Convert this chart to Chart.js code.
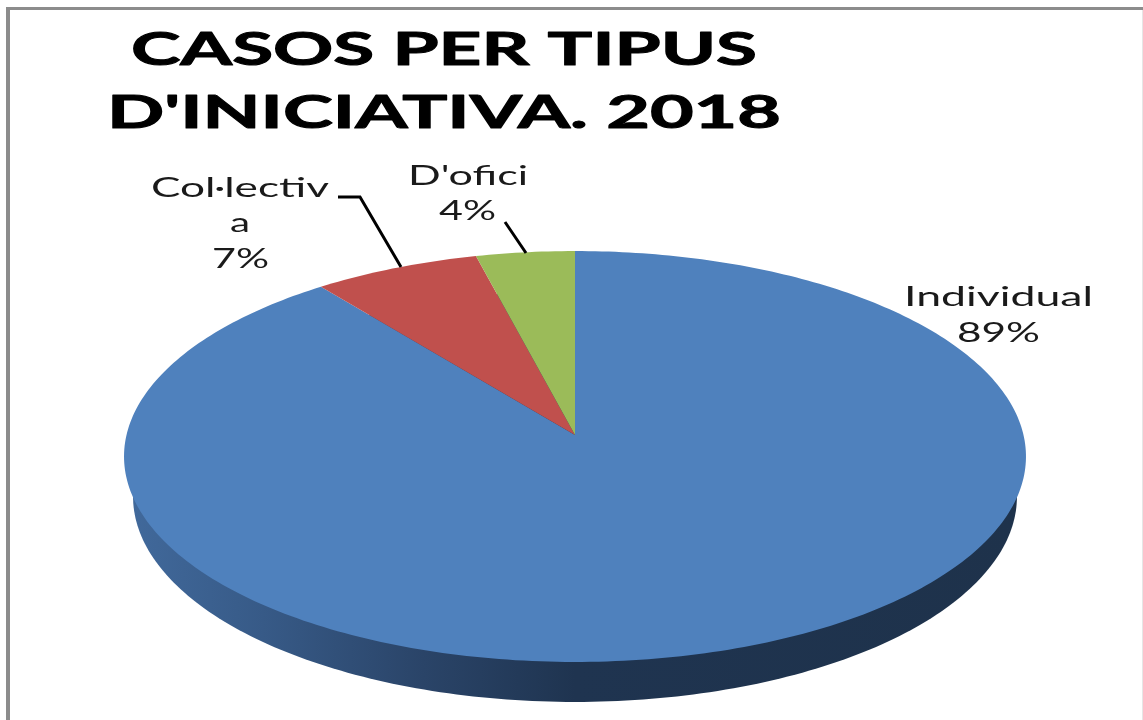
<!DOCTYPE html>
<html>
<head>
<meta charset="utf-8">
<style>html,body{margin:0;padding:0;background:#fff}canvas{display:block}</style>
<script src="https://cdn.jsdelivr.net/npm/chart.js@4"></script>
</head>
<body>
<canvas id="c" width="1143" height="720"></canvas>
<script>
const categories = ['Individual', 'Col·lectiva', "D'ofici"];
const seriesValues = [89.49, 6.6, 3.91];
const sliceColors = ['#4f81bd', '#c0504d', '#9bbb59'];
const titleLines = ['CASOS PER TIPUS', "D'INICIATIVA. 2018"];

// perspective look of the tilted disc
const STRETCH_X = 448.5 / 205.5, STRETCH_Y = 203.2 / 205.5, PERSP = 0.1046, APEX = -21.5;
const project = (el, r, a) => {
  const u = r * Math.cos(a), v = r * Math.sin(a), w = 1 - PERSP * Math.sin(a);
  return [el.x + STRETCH_X * u / w, el.y + APEX + STRETCH_Y * v / w];
};
const ArcEl = Chart.elements.ArcElement;
ArcEl.prototype.draw = function (ctx) {
  const { startAngle, endAngle, outerRadius } = this;
  const steps = Math.max(2, Math.ceil((endAngle - startAngle) * 60));
  ctx.save();
  ctx.beginPath();
  ctx.moveTo(...project(this, 0, 0));
  for (let i = 0; i <= steps; i++) {
    ctx.lineTo(...project(this, outerRadius, startAngle + (endAngle - startAngle) * i / steps));
  }
  ctx.closePath();
  ctx.fillStyle = this.options.backgroundColor;
  ctx.fill();
  ctx.restore();
};

const stretchText = (ctx, text, x1, x2, baseline, font, color, weight) => {
  ctx.save();
  ctx.font = font;
  ctx.fillStyle = color;
  ctx.strokeStyle = color;
  ctx.textAlign = 'left';
  ctx.textBaseline = 'alphabetic';
  ctx.lineJoin = 'round';
  const m = ctx.measureText(text);
  const sx = (x2 - x1) / m.width;
  ctx.translate(x1, baseline);
  ctx.scale(sx, 1);
  ctx.fillText(text, 0, 0);
  if (weight) { ctx.lineWidth = weight; ctx.strokeText(text, 0, 0); }
  ctx.restore();
};

const decor = {
  id: 'decor',
  beforeDraw(chart) {
    const ctx = chart.ctx;
    ctx.save();
    ctx.fillStyle = '#ffffff';
    ctx.fillRect(0, 0, 1143, 720);
    ctx.fillStyle = '#8c8c8c';
    ctx.fillRect(6, 7, 1137, 3);
    ctx.fillRect(6, 7, 4, 713);
    ctx.fillStyle = '#e6e6e6';
    ctx.fillRect(1142, 10, 1, 710);
    ctx.restore();
  },
  beforeDatasetsDraw(chart) {
    const ctx = chart.ctx;
    const el = chart.getDatasetMeta(0).data[0];
    const R = el.outerRadius;
    const g = ctx.createLinearGradient(130, 0, 1020, 0);
    g.addColorStop(0, '#41699b');
    g.addColorStop(0.15, '#375a87');
    g.addColorStop(0.33, '#2a4468');
    g.addColorStop(0.5, '#1f3450');
    g.addColorStop(1, '#1e324b');
    ctx.save();
    ctx.beginPath();
    for (let i = 0; i <= 360; i++) {
      const [x, y] = project(el, R, i * Math.PI / 180);
      const px = el.x + (x - el.x) * 0.98, py = y + 40;
      if (i === 0) ctx.moveTo(px, py); else ctx.lineTo(px, py);
    }
    ctx.closePath();
    ctx.fillStyle = g;
    ctx.fill();
    ctx.restore();
  },
  afterDraw(chart) {
    const ctx = chart.ctx;
    const total = seriesValues.reduce((a, b) => a + b, 0);
    const pct = seriesValues.map(v => Math.round(v / total * 100) + '%');
    const tf = 'bold 46px Lato', lf = '27px Lato', dark = '#1a1a1a';

    stretchText(ctx, titleLines[0], 131, 757, 65, tf, '#000', 1);
    stretchText(ctx, titleLines[1], 107, 781, 128, tf, '#000', 1);

    stretchText(ctx, categories[0], 904, 1093, 306, lf, dark);
    stretchText(ctx, pct[0], 957, 1040, 342, lf, dark);

    stretchText(ctx, categories[1].slice(0, -1), 151, 329, 197, lf, dark);
    stretchText(ctx, categories[1].slice(-1), 230, 250, 232, lf, dark);
    stretchText(ctx, pct[1], 212, 269, 268, lf, dark);

    stretchText(ctx, categories[2], 408, 528, 185, lf, dark);
    stretchText(ctx, pct[2], 439, 496, 220, lf, dark);

    ctx.save();
    ctx.strokeStyle = '#000';
    ctx.lineWidth = 3;
    ctx.beginPath();
    ctx.moveTo(338, 197); ctx.lineTo(360, 197); ctx.lineTo(401, 267);
    ctx.moveTo(505, 222); ctx.lineTo(526, 253);
    ctx.stroke();
    ctx.restore();
  }
};

new Chart(document.getElementById('c'), {
  type: 'pie',
  data: {
    labels: categories,
    datasets: [{ data: seriesValues, backgroundColor: sliceColors, borderWidth: 0 }]
  },
  options: {
    responsive: false,
    animation: false,
    layout: { padding: { left: 124, right: 117, top: 251, bottom: 58 } },
    plugins: { legend: { display: false }, tooltip: { enabled: false }, title: { display: false } }
  },
  plugins: [decor]
});
</script>
</body>
</html>
